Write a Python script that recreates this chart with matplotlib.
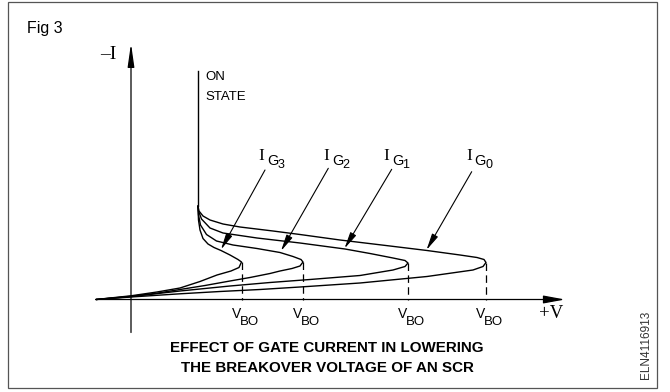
import matplotlib
matplotlib.use("Agg")
import matplotlib.pyplot as plt
from matplotlib.patches import Rectangle

# ---- data (V = voltage, I = current, arbitrary units; origin at axis crossing) ----
curve_names = ["3", "2", "1", "0"]

v_g3 = [-35, 0, 26, 49, 69, 86, 100, 108, 110.5, 107, 99, 90, 83, 77, 72, 69, 67.5, 67]
i_g3 = [0, 3.7, 7.5, 11.5, 18, 24.5, 28.5, 32, 37.5, 40, 44.5, 49, 52, 55.5, 61, 69.5, 79.5, 93.5]

v_g2 = [-35, 0, 26, 49, 74, 99, 119, 139, 149, 161, 169, 172, 170, 162, 149, 126, 102, 85.5, 75.5, 69.5, 67.5, 67]
i_g2 = [0, 3.2, 6.3, 10, 14, 18.5, 22, 26, 28.5, 31, 33.5, 37.5, 40, 43, 47, 51, 54.5, 58.5, 65, 74.5, 84.5, 93.5]

v_g1 = [-35, 0, 49, 99, 139, 179, 229, 262, 274, 277, 274, 262, 239, 214, 169, 126, 92, 79, 70.5, 67.5, 67]
i_g1 = [0, 2.9, 8.5, 13.5, 17, 20, 24, 29.5, 33, 36.5, 39, 41.5, 46, 50.5, 56.5, 61.5, 66.5, 71.5, 80.5, 88.5, 93.5]

v_g0 = [-35, 0, 49, 89, 129, 169, 229, 296, 342, 352, 355, 353, 346, 329, 296, 259, 209, 169, 142, 109, 92, 79, 72, 68, 67]
i_g0 = [0, 2.5, 5.7, 8, 10, 12.5, 16.5, 23, 29.5, 33, 37, 40, 42, 44.5, 49, 53.5, 59.5, 65, 68.5, 72.5, 75.5, 79.5, 83.5, 88.5, 93.5]

on_state_v = [67, 67]
on_state_i = [93.5, 229]

# annotation arrows: label-end -> curve point
arrow_start_v = [134, 197.3, 260.7, 340.7]
arrow_start_i = [129.5, 131.2, 130.2, 127.8]
arrow_tip_v = [90, 150, 213.5, 295.5]
arrow_tip_i = [50, 48.5, 51, 49.5]
label_v = [127.3, 192.3, 252.3, 335]

# ---- figure ----
fig = plt.figure(figsize=(6.7, 3.92), dpi=100)
ax = fig.add_axes([0, 0, 1, 1])
ax.set_xlim(-131, 539)
ax.set_ylim(-92.5, 299.5)
ax.axis("off")

sans = "Liberation Sans"
serif = "Liberation Serif"
lw = 1.0

# border
ax.add_patch(Rectangle((-123.5, -88.8), 649.2, 386.8, fill=False,
                       edgecolor="#555555", lw=0.9, clip_on=False))

# axes with arrows
ax.annotate("", xy=(434, 0), xytext=(-35, 0),
            arrowprops=dict(arrowstyle="-|>,head_length=1.3,head_width=0.24",
                            mutation_scale=10, lw=0.9, color="black",
                            shrinkA=0, shrinkB=0))
ax.annotate("", xy=(0, 256), xytext=(0, -33),
            arrowprops=dict(arrowstyle="-|>,head_length=1.4,head_width=0.2",
                            mutation_scale=10, lw=0.9, color="black",
                            shrinkA=0, shrinkB=0))

# curves
curves = [(v_g3, i_g3), (v_g2, i_g2), (v_g1, i_g1), (v_g0, i_g0)]
for v, i in curves:
    ax.plot(v, i, color="black", lw=lw, solid_joinstyle="round", solid_capstyle="round")
    k = v.index(max(v))
    ax.plot([v[k], v[k]], [i[k], 0], color="black", lw=0.9, dashes=(6, 3.5))

ax.plot(on_state_v, on_state_i, color="black", lw=lw)

# arrows to curves + labels
for n, sv, si, tv, ti, lv in zip(curve_names, arrow_start_v, arrow_start_i,
                                  arrow_tip_v, arrow_tip_i, label_v):
    ax.annotate("", xy=(tv, ti), xytext=(sv, si),
                arrowprops=dict(arrowstyle="-|>,head_length=1.0,head_width=0.2",
                                mutation_scale=10, lw=0.8, color="black",
                                shrinkA=0, shrinkB=0))
    ax.text(lv, 139.5, "I", fontsize=12.5, family=serif, ha="left", va="baseline")
    ax.text(lv + 8.5, 134.5, "G", fontsize=10.5, family=sans, ha="left", va="baseline")
    ax.text(lv + 19, 131.2, n, fontsize=9, family=sans, ha="left", va="baseline")

# VBO labels
for v, i in curves:
    x = max(v)
    ax.text(x - 10, -18, "V", fontsize=10, family=sans, ha="left", va="baseline")
    ax.text(x - 2, -25.5, "BO", fontsize=9.5, family=sans, ha="left", va="baseline")

ax.text(408, -18, "+V", fontsize=13.5, family=serif, ha="left", va="baseline")
ax.text(-14, 240.5, "\u2013I", fontsize=14, family=serif, ha="right", va="baseline")
ax.text(74, 219.5, "ON", fontsize=9.5, family=sans, ha="left", va="baseline")
ax.text(74, 199.5, "STATE", fontsize=9.5, family=sans, ha="left", va="baseline")
ax.text(-104, 266.5, "Fig 3", fontsize=11.5, family=sans, ha="left", va="baseline")

ax.text(196, -52.2, "EFFECT OF GATE CURRENT IN LOWERING", fontsize=10.9,
        family=sans, weight="bold", ha="center", va="baseline")
ax.text(196, -72.2, "THE BREAKOVER VOLTAGE OF AN SCR", fontsize=10.9,
        family=sans, weight="bold", ha="center", va="baseline")

ax.text(515, -45.5, "ELN4116913", fontsize=8.5, family=sans, color="#333333",
        rotation=90, ha="center", va="center")

fig.savefig("out.png", dpi=100)
